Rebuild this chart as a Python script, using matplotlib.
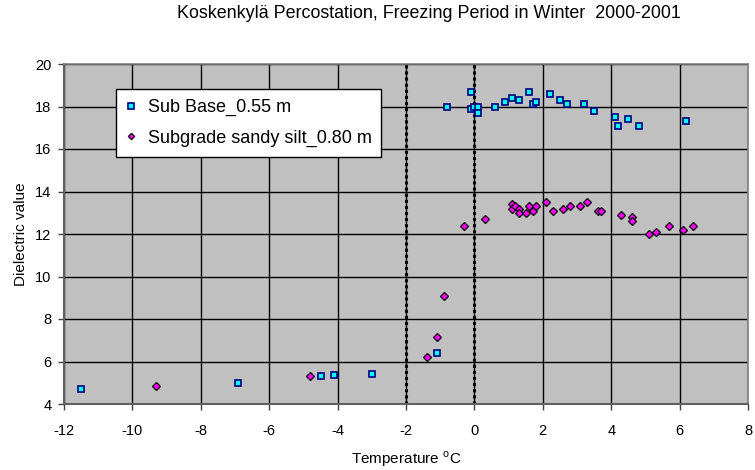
import numpy as np
import matplotlib.pyplot as plt

plt.rcParams['font.family'] = ['Liberation Sans', 'DejaVu Sans']
plt.rcParams['mathtext.fontset'] = 'custom'
plt.rcParams['mathtext.rm'] = 'Liberation Sans'
plt.rcParams['axes.unicode_minus'] = False

# Sub Base 0.55 m
sub_t = [-11.5, -6.9, -4.5, -4.1, -3.0, -1.1, -0.8, -0.1, -0.1, 0.0, 0.1, 0.1,
         0.6, 0.9, 1.1, 1.3, 1.6, 1.7, 1.8, 2.2, 2.5, 2.7, 3.2, 3.5, 4.1, 4.2,
         4.5, 4.8, 6.2]
sub_e = [4.7, 5.0, 5.3, 5.35, 5.4, 6.4, 18.0, 18.7, 17.9, 18.0, 18.0, 17.7,
         18.0, 18.2, 18.4, 18.3, 18.7, 18.1, 18.2, 18.6, 18.3, 18.1, 18.1, 17.8,
         17.5, 17.1, 17.4, 17.1, 17.3]

# Subgrade sandy silt 0.80 m
sg_t = [-9.3, -4.8, -1.4, -1.1, -0.9, -0.3, 0.3, 1.1, 1.1, 1.2, 1.3, 1.3, 1.5,
        1.6, 1.7, 1.8, 2.1, 2.3, 2.6, 2.8, 3.1, 3.3, 3.6, 3.7, 4.3, 4.6, 4.6,
        5.1, 5.3, 5.7, 6.1, 6.4]
sg_e = [4.85, 5.3, 6.2, 7.15, 9.1, 12.4, 12.7, 13.4, 13.2, 13.3, 13.2, 13.0,
        13.0, 13.3, 13.1, 13.3, 13.5, 13.1, 13.2, 13.3, 13.3, 13.5, 13.1, 13.1,
        12.9, 12.8, 12.6, 12.0, 12.1, 12.4, 12.2, 12.4]

freeze_lines = [-2, 0]

fig = plt.figure(figsize=(7.55, 4.7), dpi=100)
ax = fig.add_axes([64/755, 1-404/470, (748-64)/755, (404-64)/470])
ax.set_facecolor('#C0C0C0')

ax.set_xlim(-12, 8)
ax.set_ylim(4, 20)
ax.set_xticks(np.arange(-12, 9, 2))
ax.set_yticks(np.arange(4, 21, 2))
ax.grid(True, color='black', linewidth=1, zorder=1)
ax.set_axisbelow(True)

for xv in freeze_lines:
    ax.axvline(xv, color='black', linestyle=(0, (1, 1)), linewidth=2.2, zorder=2)

ax.plot(sub_t, sub_e, linestyle='none', marker='s', markersize=5.0,
        markerfacecolor='#00FFFF', markeredgecolor='#000080', markeredgewidth=1.2,
        label='Sub Base_0.55 m', zorder=4)
ax.plot(sg_t, sg_e, linestyle='none', marker='D', markersize=4.0,
        markerfacecolor='#FF00FF', markeredgecolor='black', markeredgewidth=0.9,
        label='Subgrade sandy silt_0.80 m', zorder=4)

for s in ['top', 'right']:
    ax.spines[s].set_color('#808080')
    ax.spines[s].set_linewidth(1.2)
for s in ['left', 'bottom']:
    ax.spines[s].set_color('#606060')
    ax.spines[s].set_linewidth(1.5)

ax.tick_params(direction='out', length=4, width=1, color='#404040', labelsize=10.5)
ax.tick_params(axis='x', pad=10.5)
ax.tick_params(axis='y', pad=5)
ax.set_xlabel('Temperature $^{\\mathrm{o}}$C', fontsize=11, labelpad=8)
ax.set_ylabel('Dielectric value', fontsize=11, labelpad=5)

fig.text(429/755, 1-14/470, 'Koskenkylä Percostation, Freezing Period in Winter  2000-2001',
         ha='center', va='center', fontsize=12.9)

leg = ax.legend(loc='upper left', bbox_to_anchor=(116/755, 1-89/470),
                bbox_transform=fig.transFigure, fontsize=13, frameon=True,
                fancybox=False, edgecolor='black', framealpha=1,
                handlelength=0.6, handletextpad=0.6, labelspacing=0.75,
                borderpad=0.55, markerscale=0.8, borderaxespad=0)
leg.get_frame().set_linewidth(1)

fig.savefig('out.png', dpi=100)
